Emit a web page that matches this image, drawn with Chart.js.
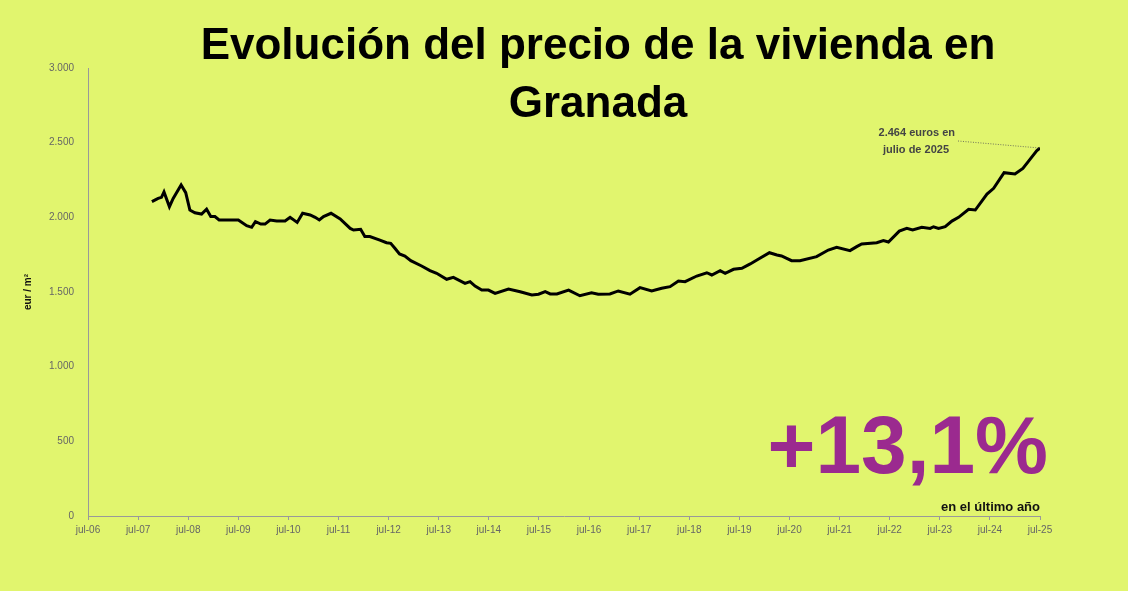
<!DOCTYPE html>
<html><head><meta charset="utf-8">
<script src="https://cdn.jsdelivr.net/npm/chart.js@4"></script>
<style>html,body{margin:0;padding:0;background:#E1F56E;}#w{width:1128px;height:591px;position:relative}</style>
</head><body><div id="w"><canvas id="c"></canvas></div>
<script>
// months since jul-06
const months = [15.3,16.8,17.6,18.2,19.5,20.4,22.3,23.4,24.4,25.6,27.2,28.4,29.4,30.4,31.4,36,38,39.2,40.1,41.4,42.4,43.6,45.2,47.2,48.4,50.1,51.4,53.2,54.4,55.4,56.4,58.2,60.4,62.8,63.6,65.3,66.3,67.5,69.9,71.5,72.5,73.5,74.6,75.9,77.3,79.9,81.9,83.5,85.9,87.5,90.3,91.5,92.7,94.3,95.9,97.5,100.7,103.5,106.3,107.9,109.5,110.7,112.3,115.1,117.8,120.6,122.2,125,127,129.8,132.2,135,137.4,139.4,141.4,143,145.8,148.2,149.4,151.4,152.6,154.6,156.6,158.6,160.2,163.2,165,166.1,168.5,170.5,174.5,177.3,179.3,182.5,184.1,185.3,188.9,190.5,191.7,194.3,196.1,197.5,199.7,201.7,202.5,203.7,205.3,206.9,208.5,210.9,212.5,215.3,216.9,219.4,222,223.9,225.6,227.2,228];
const prices = [2105,2127,2134,2170,2071,2127,2217,2165,2049,2031,2022,2054,2005,2005,1982,1982,1944,1933,1971,1955,1955,1982,1975,1975,2000,1966,2027,2016,2000,1982,2005,2027,1989,1926,1915,1920,1871,1871,1848,1830,1826,1793,1755,1741,1710,1674,1643,1625,1585,1598,1558,1569,1540,1513,1513,1491,1520,1502,1480,1485,1502,1487,1487,1513,1475,1495,1485,1487,1507,1485,1529,1507,1525,1536,1574,1569,1607,1629,1614,1643,1625,1652,1659,1688,1714,1763,1748,1741,1710,1710,1737,1781,1799,1777,1804,1822,1830,1844,1835,1908,1926,1915,1933,1926,1937,1926,1937,1975,2000,2054,2049,2156,2194,2299,2290,2328,2388,2446,2464];
const yTicks = [0,500,1000,1500,2000,2500,3000];
const tickLabels = ['jul-06','jul-07','jul-08','jul-09','jul-10','jul-11','jul-12','jul-13','jul-14','jul-15','jul-16','jul-17','jul-18','jul-19','jul-20','jul-21','jul-22','jul-23','jul-24','jul-25'];
const titleLines = ['Evolución del precio de la vivienda en','Granada'];

const textPlugin = {id:'txt', afterDraw(ch){
  const c=ch.ctx; c.save();
  c.fillStyle='#000'; c.textAlign='center'; c.textBaseline='middle';
  c.font='bold 44px "Liberation Sans", Arial, sans-serif';
  c.fillText(titleLines[0],598,47); c.fillText(titleLines[1],598,105);
  c.fillStyle='#9B2A8F'; c.textAlign='right';
  c.font='bold 82px "Liberation Sans", Arial, sans-serif';
  c.fillText('+13,1%',1048,450);
  c.fillStyle='#111'; c.font='bold 13px "Liberation Sans", Arial, sans-serif';
  c.fillText('en el último año',1040,507);
  c.fillStyle='#444'; c.font='bold 11px "Liberation Sans", Arial, sans-serif';
  c.fillText('2.464 euros en',955,133); c.fillText('julio de 2025',949,150);
  const xs=ch.scales.x, ys=ch.scales.y;
  c.strokeStyle='#555'; c.lineWidth=0.8; c.setLineDash([1,1.5]);
  c.beginPath(); c.moveTo(958,141); c.lineTo(xs.getPixelForValue(228),ys.getPixelForValue(2464)); c.stroke();
  c.restore();
}};

new Chart(document.getElementById('c'),{
  type:'line',
  data:{datasets:[{data:months.map((m,i)=>({x:m,y:prices[i]})),borderColor:'#000',borderWidth:3,pointRadius:0,tension:0,fill:false}]},
  options:{responsive:true,maintainAspectRatio:false,animation:false,
    layout:{padding:{top:68,right:88,left:0,bottom:0}},
    plugins:{legend:{display:false},tooltip:{enabled:false}},
    scales:{
      x:{type:'linear',min:0,max:228,afterFit(s){s.height=75;},
        afterBuildTicks(s){s.ticks=tickLabels.map((_,i)=>({value:i*12}));},
        ticks:{callback:(v)=>tickLabels[Math.round(v/12)],color:'#666',font:{size:10,family:'"Liberation Sans", Arial'},maxRotation:0,autoSkip:false,padding:4},
        grid:{drawOnChartArea:false,drawTicks:true,tickLength:4,color:'#999'},border:{color:'#999'}},
      y:{min:0,max:3000,afterFit(s){s.width=88;},
        afterBuildTicks(s){s.ticks=yTicks.map(v=>({value:v}));},
        ticks:{callback:(v)=>v.toLocaleString('de-DE'),color:'#666',font:{size:10,family:'"Liberation Sans", Arial'},padding:6},
        grid:{display:false},border:{color:'#999'},
        title:{display:true,text:'eur / m²',color:'#111',font:{size:10,weight:'bold',family:'"Liberation Sans", Arial'},padding:{top:22,bottom:0}}}
    }}, plugins:[textPlugin]});
</script></body></html>
